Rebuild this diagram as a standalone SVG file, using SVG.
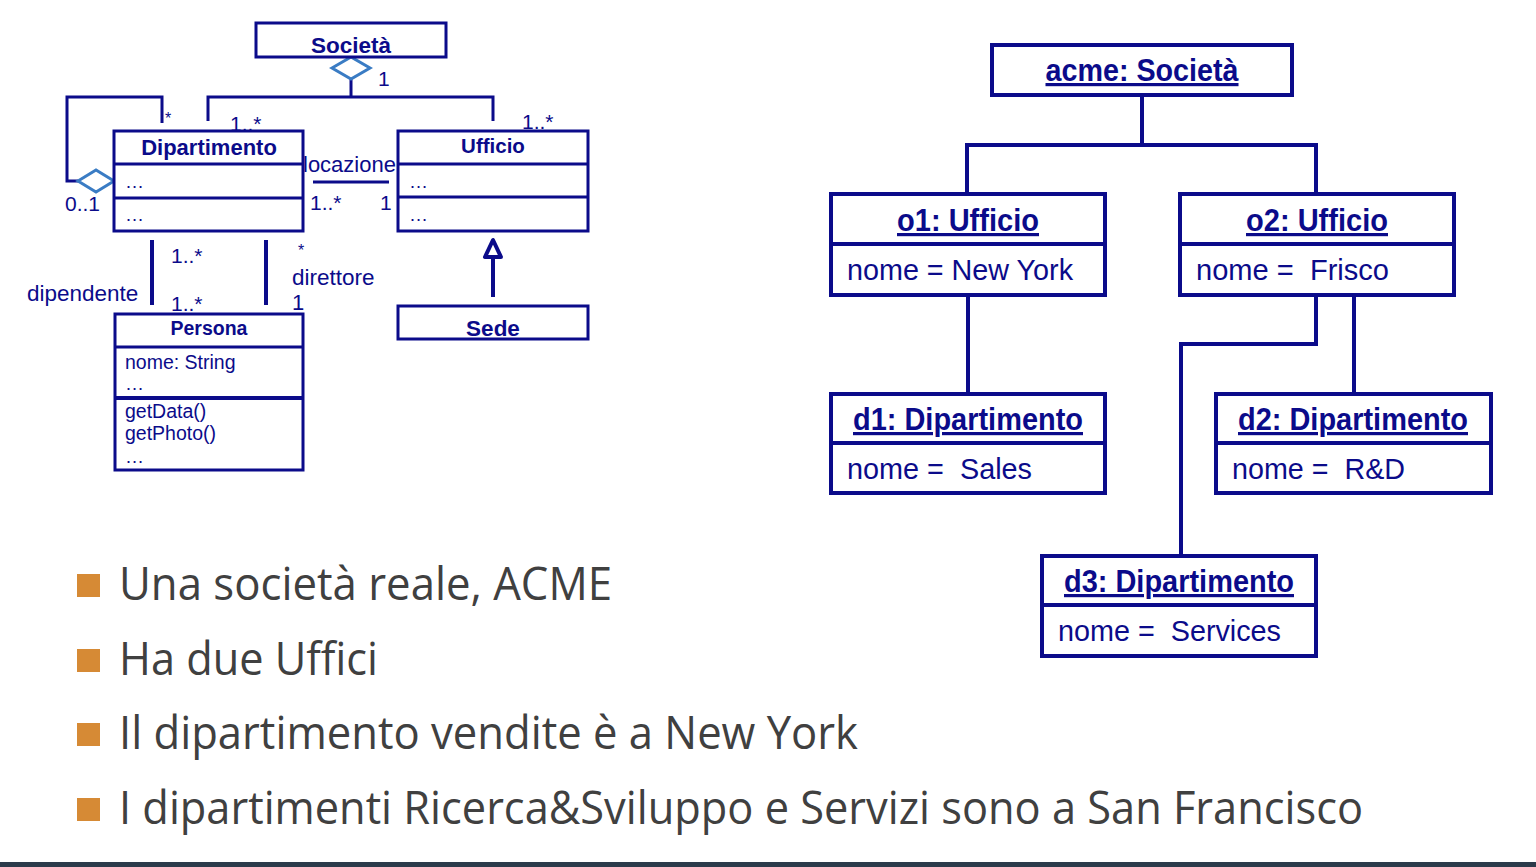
<svg xmlns="http://www.w3.org/2000/svg" width="1536" height="867" viewBox="0 0 1536 867">
<style>
.box{fill:#fff;stroke:#0b0b8a;stroke-width:3}
.obox{fill:#fff;stroke:#0b0b8a;stroke-width:4}
.ln{fill:none;stroke:#0b0b8a;stroke-width:3}
.oln{fill:none;stroke:#0b0b8a;stroke-width:4}
.dia{fill:#fff;stroke:#3a7cc4;stroke-width:3}
.t{font-family:"Liberation Sans",Arial,sans-serif;fill:#0b0b8a}
.b{font-weight:bold}
.c{text-anchor:middle}
.ot{font-family:"Liberation Sans",Arial,sans-serif;fill:#0b0b8a;font-weight:bold;font-size:32px;text-anchor:middle;text-decoration:underline}
.ov{font-family:"Liberation Sans",Arial,sans-serif;fill:#0b0b8a;font-size:29px}
.bt{font-family:"Open Sans","Noto Sans",sans-serif;fill:#404040;font-size:45px}
.sq{fill:#d68a35}
</style>
<rect width="1536" height="867" fill="#fff"/>

<g id="connectors">
  <!-- left class diagram -->
  <polyline class="ln" points="351,79 351,97"/>
  <polyline class="ln" points="208,121 208,97 493,97 493,121"/>
  <polyline class="ln" points="162,123 162,97 67,97 67,181 78,181"/>
  <line class="ln" x1="313" y1="182" x2="389" y2="182"/>
  <line class="oln" x1="152" y1="240" x2="152" y2="305"/>
  <line class="oln" x1="266" y1="240" x2="266" y2="305"/>
  <line class="oln" x1="493" y1="297" x2="493" y2="250"/>
  <polygon points="493,240 485,257 501,257" fill="#fff" stroke="#0b0b8a" stroke-width="4" stroke-linejoin="round"/>
  <polygon class="dia" points="332,68 351,57 370,68 351,79"/>
  <polygon class="dia" points="78,181 96,170 114,181 96,192"/>
  <!-- right object diagram -->
  <polyline class="oln" points="1142,95 1142,145"/>
  <polyline class="oln" points="967,194 967,145 1316,145 1316,194"/>
  <line class="oln" x1="968" y1="295" x2="968" y2="394"/>
  <line class="oln" x1="1354" y1="295" x2="1354" y2="394"/>
  <polyline class="oln" points="1316,295 1316,344 1181,344 1181,556"/>
</g>

<!-- multiplicity / role labels -->
<g id="labels" class="t" font-size="21">
  <text x="378" y="86">1</text>
  <text x="165" y="124" font-size="16">*</text>
  <text x="230" y="131">1..*</text>
  <text x="522" y="129">1..*</text>
  <text x="65" y="211">0..1</text>
  <text x="303" y="172" font-size="22">locazione</text>
  <text x="310" y="210">1..*</text>
  <text x="380" y="210">1</text>
  <text x="171" y="263">1..*</text>
  <text x="171" y="311">1..*</text>
  <text x="27" y="301" font-size="22.5">dipendente</text>
  <text x="298" y="256" font-size="16">*</text>
  <text x="292" y="285" font-size="22.5">direttore</text>
  <text x="292" y="310" font-size="22">1</text>
</g>

<g id="societa">
  <rect class="box" x="256" y="23" width="190" height="34"/>
  <text class="t b c" x="351" y="53" font-size="22.5">Società</text>
</g>

<g id="dipartimento">
  <rect class="box" x="114" y="131" width="189" height="100"/>
  <line class="ln" x1="114" y1="164" x2="303" y2="164"/>
  <line class="ln" x1="114" y1="198" x2="303" y2="198"/>
  <text class="t b c" x="209" y="155" font-size="22">Dipartimento</text>
  <text class="t" x="125" y="188" font-size="19">…</text>
  <text class="t" x="125" y="221" font-size="19">…</text>
</g>

<g id="ufficio">
  <rect class="box" x="398" y="131" width="190" height="100"/>
  <line class="ln" x1="398" y1="164" x2="588" y2="164"/>
  <line class="ln" x1="398" y1="197" x2="588" y2="197"/>
  <text class="t b c" x="493" y="153" font-size="20.5">Ufficio</text>
  <text class="t" x="409" y="188" font-size="19">…</text>
  <text class="t" x="409" y="221" font-size="19">…</text>
</g>

<g id="sede">
  <rect class="box" x="398" y="306" width="190" height="33"/>
  <text class="t b c" x="493" y="336" font-size="22.5">Sede</text>
</g>

<g id="persona">
  <rect class="box" x="115" y="314" width="188" height="156"/>
  <line class="ln" x1="115" y1="347" x2="303" y2="347"/>
  <line class="oln" x1="115" y1="398" x2="303" y2="398"/>
  <text class="t b c" x="209" y="335" font-size="19.5">Persona</text>
  <text class="t" x="125" y="369" font-size="19.5">nome: String</text>
  <text class="t" x="125" y="390" font-size="19">…</text>
  <text class="t" x="125" y="418" font-size="19.5">getData()</text>
  <text class="t" x="125" y="440" font-size="19.5">getPhoto()</text>
  <text class="t" x="125" y="463" font-size="19">…</text>
</g>

<g id="acme">
  <rect class="obox" x="992" y="45" width="300" height="50"/>
  <text class="ot" x="1142" y="81" textLength="193" lengthAdjust="spacingAndGlyphs">acme: Società</text>
</g>

<g id="o1">
  <rect class="obox" x="831" y="194" width="274" height="101"/>
  <line class="oln" x1="831" y1="244" x2="1105" y2="244"/>
  <text class="ot" x="968" y="231" textLength="142" lengthAdjust="spacingAndGlyphs">o1: Ufficio</text>
  <text class="ov" x="847" y="280" textLength="226" lengthAdjust="spacingAndGlyphs">nome = New York</text>
</g>

<g id="o2">
  <rect class="obox" x="1180" y="194" width="274" height="101"/>
  <line class="oln" x1="1180" y1="244" x2="1454" y2="244"/>
  <text class="ot" x="1317" y="231" textLength="142" lengthAdjust="spacingAndGlyphs">o2: Ufficio</text>
  <text class="ov" x="1196" y="280" xml:space="preserve" textLength="193" lengthAdjust="spacingAndGlyphs">nome =  Frisco</text>
</g>

<g id="d1">
  <rect class="obox" x="831" y="394" width="274" height="99"/>
  <line class="oln" x1="831" y1="443" x2="1105" y2="443"/>
  <text class="ot" x="968" y="430" textLength="230" lengthAdjust="spacingAndGlyphs">d1: Dipartimento</text>
  <text class="ov" x="847" y="479" xml:space="preserve" textLength="185" lengthAdjust="spacingAndGlyphs">nome =  Sales</text>
</g>

<g id="d2">
  <rect class="obox" x="1216" y="394" width="275" height="99"/>
  <line class="oln" x1="1216" y1="443" x2="1491" y2="443"/>
  <text class="ot" x="1353" y="430" textLength="230" lengthAdjust="spacingAndGlyphs">d2: Dipartimento</text>
  <text class="ov" x="1232" y="479" xml:space="preserve" textLength="173" lengthAdjust="spacingAndGlyphs">nome =  R&amp;D</text>
</g>

<g id="d3">
  <rect class="obox" x="1042" y="556" width="274" height="100"/>
  <line class="oln" x1="1042" y1="605" x2="1316" y2="605"/>
  <text class="ot" x="1179" y="592" textLength="230" lengthAdjust="spacingAndGlyphs">d3: Dipartimento</text>
  <text class="ov" x="1058" y="641" xml:space="preserve" textLength="223" lengthAdjust="spacingAndGlyphs">nome =  Services</text>
</g>

<g id="bullets">
  <rect class="sq" x="77" y="574" width="23" height="23"/>
  <text class="bt" x="119" y="600" textLength="493" lengthAdjust="spacingAndGlyphs">Una società reale, ACME</text>
  <rect class="sq" x="77" y="649" width="23" height="23"/>
  <text class="bt" x="119" y="675" textLength="259" lengthAdjust="spacingAndGlyphs">Ha due Uffici</text>
  <rect class="sq" x="77" y="723" width="23" height="23"/>
  <text class="bt" x="119" y="749" textLength="739" lengthAdjust="spacingAndGlyphs">Il dipartimento vendite è a New York</text>
  <rect class="sq" x="77" y="798" width="23" height="23"/>
  <text class="bt" x="119" y="824" textLength="1244" lengthAdjust="spacingAndGlyphs">I dipartimenti Ricerca&amp;Sviluppo e Servizi sono a San Francisco</text>
</g>

<rect x="0" y="862" width="1536" height="5" fill="#2b3a4a"/>
</svg>
